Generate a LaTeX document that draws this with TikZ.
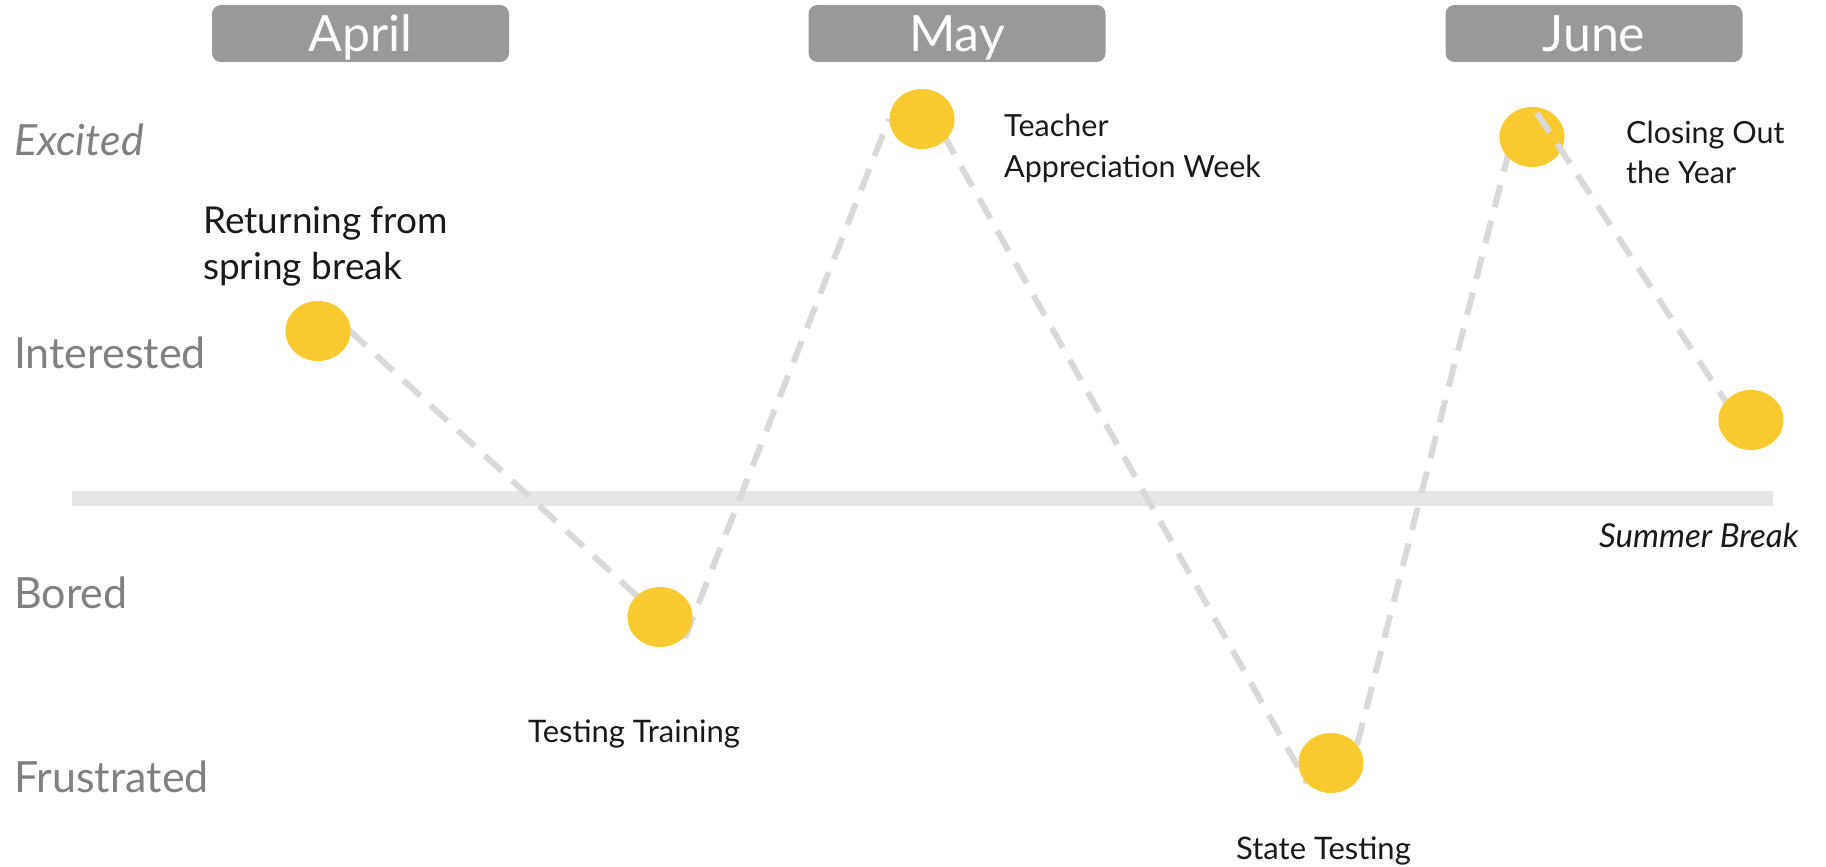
\documentclass[tikz,border=0pt]{standalone}
\usepackage{fontspec}
\setmainfont{Lato}
\usetikzlibrary{shapes.geometric}
\definecolor{monthgray}{HTML}{999999}
\definecolor{axisgray}{HTML}{808080}
\definecolor{dot}{HTML}{F9C930}
\definecolor{dashgray}{HTML}{D9D9D9}
\definecolor{bargray}{HTML}{E6E6E6}
\tikzset{
  monthbox/.style={fill=monthgray, rounded corners=9pt, minimum width=297pt,
    text height=47pt, text depth=10pt, inner sep=0pt, text=white, font=\fontsize{50}{54}\selectfont},
  moodlabel/.style={anchor=base west, inner sep=0pt, text=axisgray, font=\fontsize{43}{48}\selectfont},
  eventdot/.style={ellipse, fill=dot, minimum width=65pt, minimum height=60pt, inner sep=0pt},
  eventlabel/.style={anchor=base west, inner sep=0pt, align=left, text=black!90},
  trend/.style={draw=dashgray, line width=6pt, dash pattern=on 23pt off 14pt},
}
\begin{document}
\begin{tikzpicture}[x=1pt,y=-1pt]
\useasboundingbox (0,0) rectangle (1826,867);

% month headers
\node[monthbox] (april) at (360.5,33.5) {April};
\node[monthbox] (may)   at (957,33.5)   {May};
\node[monthbox] (june)  at (1594,33.5)  {June};

% mood scale
\node[moodlabel] (excited)    at (14,155) {\textit{Excited}};
\node[moodlabel] (interested) at (14,368) {Interested};
\node[moodlabel] (bored)      at (14,608) {Bored};
\node[moodlabel] (frustrated) at (14,792) {Frustrated};

% neutral line
\coordinate (barL) at (72,498);
\coordinate (barR) at (1773,498);
\draw[bargray, line width=15pt] (barL) -- (barR);

% trend segment end points
\coordinate (a1) at (349,330);  \coordinate (b1) at (638,597);
\coordinate (a2) at (685,638);  \coordinate (b2) at (889,119);
\coordinate (a3) at (943,134);  \coordinate (b3) at (1307,783);
\coordinate (a4) at (1357,745); \coordinate (b4) at (1509,151);
\coordinate (a5) at (1537,113); \coordinate (b5) at (1726,402);

\draw[trend] (a1) -- (b1);
\draw[trend] (a2) -- (b2);
\draw[trend] (a3) -- (b3);
\draw[trend] (a4) -- (b4);

% events
\node[eventdot] (spring)  at (318,331)  {};
\node[eventdot] (training) at (660,617) {};
\node[eventdot] (teacher) at (922,119)  {};
\node[eventdot] (state)   at (1331,763) {};
\node[eventdot] (closing) at (1532,137) {};
\draw[trend] (a5) -- (b5);
\node[eventdot] (summer)  at (1751,420) {};

% event labels (multi-line labels are placed by their last baseline)
\node[eventlabel, font=\fontsize{37}{46}\selectfont] (springtxt) at (203,279) {Returning from\\spring break};
\node[eventlabel, font=\fontsize{30.5}{41}\selectfont] (teachertxt) at (1004,177) {Teacher\\Appreciation Week};
\node[eventlabel, font=\fontsize{30.5}{40}\selectfont] (closingtxt) at (1626,183) {Closing Out\\the Year};
\node[eventlabel, font=\fontsize{31}{36}\selectfont] (trainingtxt) at (528,742) {Testing Training};
\node[eventlabel, font=\fontsize{31}{36}\selectfont] (statetxt) at (1236,859) {State Testing};
\node[eventlabel, font=\fontsize{33}{38}\selectfont] (summertxt) at (1599,547) {\textit{Summer Break}};
\end{tikzpicture}
\end{document}
